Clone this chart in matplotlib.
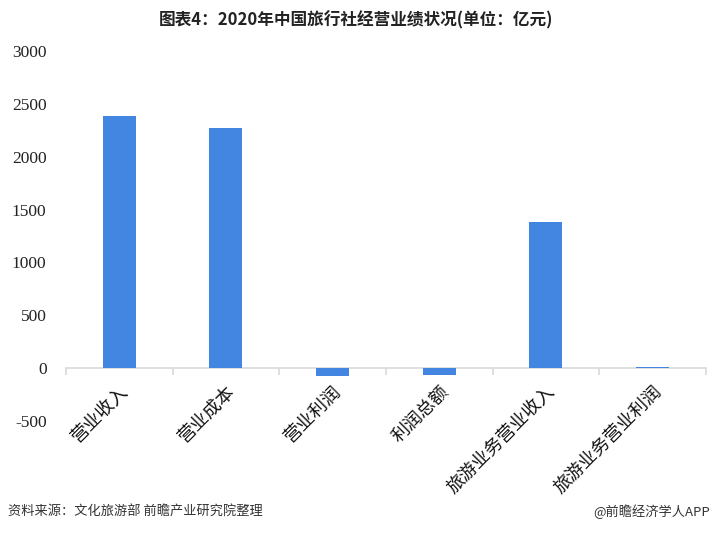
import matplotlib
matplotlib.use("Agg")
import matplotlib.pyplot as plt
from matplotlib.ticker import FixedLocator

plt.rcParams["font.family"] = ["Noto Sans CJK SC", "DejaVu Sans"]

# 2020 travel agency results (unit: 100 million yuan)
categories = ["营业收入", "营业成本", "营业利润", "利润总额", "旅游业务营业收入", "旅游业务营业利润"]
values = [2389, 2275, -70, -68, 1380, 12]
y_ticks = [-500, 0, 500, 1000, 1500, 2000, 2500, 3000]

fig = plt.figure(figsize=(7.11, 5.34), dpi=100)
ax = fig.add_axes([0.0928, 0.2116, 0.9, 0.6929])

x = list(range(len(categories)))
ax.bar(x, values, width=0.31, color="#4386E2", zorder=2)

ax.set_xlim(-0.5, len(categories) - 0.5)
ax.set_ylim(-500, 3000)
ax.set_yticks(y_ticks)
ax.set_yticklabels([str(v) for v in y_ticks])

# axis line at zero with category separators
for side in ["left", "right", "top"]:
    ax.spines[side].set_visible(False)
ax.spines["bottom"].set_position(("data", 0))
ax.spines["bottom"].set_color("#d9d9d9")
ax.spines["bottom"].set_linewidth(1.2)
ax.spines["bottom"].set_zorder(1)

ax.set_xticks(x)
ax.set_xticklabels(categories, rotation=45, ha="right", va="top", rotation_mode="anchor", fontsize=13, color="#111111")
ax.xaxis.set_minor_locator(FixedLocator([i - 0.5 for i in range(len(categories) + 1)]))
ax.tick_params(axis="x", which="major", length=0, pad=10)
ax.tick_params(axis="x", which="minor", length=5, color="#d9d9d9", width=1.2)
ax.tick_params(axis="y", length=0, pad=14)

for lbl in ax.get_yticklabels():
    lbl.set_fontfamily(["Liberation Serif"])
    lbl.set_fontsize(12.5)
    lbl.set_color("#222222")

fig.text(0.5, 0.962, "图表4：2020年中国旅行社经营业绩状况(单位：亿元)", ha="center", va="center",
         fontsize=12, fontweight="bold", color="#222222")
fig.text(0.011, 0.041, "资料来源：文化旅游部 前瞻产业研究院整理", ha="left", va="center", fontsize=9.5, color="#333333")
fig.text(0.998, 0.041, "@前瞻经济学人APP", ha="right", va="center", fontsize=9.5, color="#333333")

fig.savefig("out.png", dpi=100)
